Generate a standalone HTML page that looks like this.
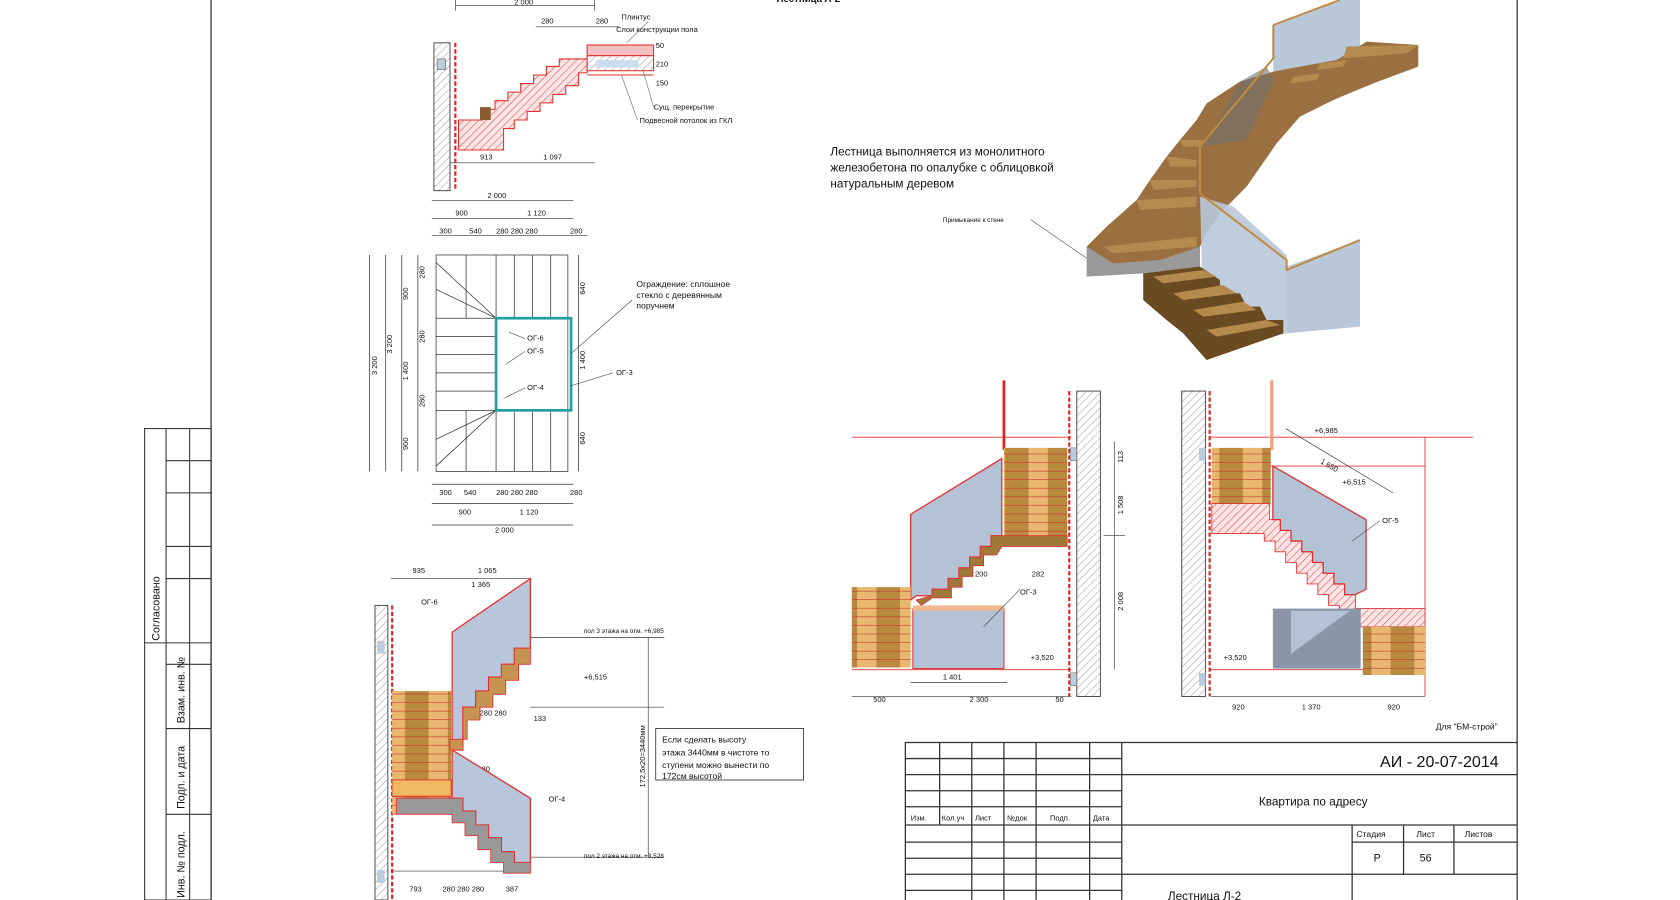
<!DOCTYPE html>
<html><head><meta charset="utf-8"><style>
html,body{margin:0;padding:0;background:#fff;width:1680px;height:900px;overflow:hidden;}
svg{display:block;}
text{font-family:"Liberation Sans",sans-serif;fill:#111;}
</style></head><body>
<svg width="1680" height="900" viewBox="0 0 1568 840" xmlns="http://www.w3.org/2000/svg" font-size="7">
<defs>
<pattern id="hr" width="5" height="5" patternUnits="userSpaceOnUse" patternTransform="rotate(45)"><rect width="5" height="5" fill="#fde4e4"/><line x1="0" y1="0" x2="0" y2="5" stroke="#e04848" stroke-width="1"/></pattern>
<pattern id="hg" width="5" height="5" patternUnits="userSpaceOnUse" patternTransform="rotate(45)"><rect width="5" height="5" fill="#fff"/><line x1="0" y1="0" x2="0" y2="5" stroke="#888" stroke-width="0.8"/></pattern>
<pattern id="wood" width="40" height="8" patternUnits="userSpaceOnUse"><rect width="40" height="8" fill="#e8b870"/><rect x="18" width="22" height="8" fill="#b88a40"/><line x1="0" y1="8" x2="40" y2="8" stroke="#d03030" stroke-width="1.2"/></pattern>
<clipPath id="cp"><rect width="1568" height="840"/></clipPath>
</defs>
<g clip-path="url(#cp)">
<rect width="1568" height="840" fill="#fff"/>
<line x1="197" y1="0" x2="197" y2="840" stroke="#333" stroke-width="1.2"/>
<line x1="1416" y1="0" x2="1416" y2="693" stroke="#333" stroke-width="1.2"/>
<g stroke="#333" fill="none" stroke-width="1">
<rect x="135" y="400" width="62" height="440"/>
<line x1="155" y1="400" x2="155" y2="840"/><line x1="177" y1="400" x2="177" y2="620"/>
<line x1="155" y1="430" x2="197" y2="430"/><line x1="155" y1="460" x2="197" y2="460"/><line x1="155" y1="510" x2="197" y2="510"/><line x1="155" y1="540" x2="197" y2="540"/><line x1="155" y1="600" x2="197" y2="600"/>
<line x1="135" y1="600" x2="155" y2="600"/><line x1="155" y1="620" x2="197" y2="620"/><line x1="155" y1="680" x2="197" y2="680"/><line x1="155" y1="760" x2="197" y2="760"/>
<line x1="177" y1="620" x2="177" y2="840"/>
</g>
<text transform="translate(149,598) rotate(-90)" font-size="10">Согласовано</text>
<text transform="translate(172,675) rotate(-90)" font-size="10">Взам. инв. №</text>
<text transform="translate(172,755) rotate(-90)" font-size="10">Подп. и дата</text>
<text transform="translate(172,838) rotate(-90)" font-size="10">Инв. № подл.</text>

<text x="725" y="2" font-size="9" font-weight="bold">Лестница Л-2</text>

<g stroke="#333" stroke-width="0.6" fill="none">
<line x1="425" y1="5" x2="555" y2="5"/><line x1="425" y1="0" x2="425" y2="10"/><line x1="555" y1="0" x2="555" y2="10"/>
<line x1="500" y1="25" x2="578" y2="25"/><line x1="420" y1="152" x2="555" y2="152"/>
<line x1="403" y1="187" x2="535" y2="187"/><line x1="403" y1="204" x2="535" y2="204"/><line x1="403" y1="220" x2="548" y2="220"/>
</g>
<text x="480" y="4">2 000</text><text x="505" y="22">280</text><text x="556" y="22">280</text>
<text x="448" y="149">913</text><text x="507" y="149">1 097</text>
<text x="455" y="185">2 000</text><text x="425" y="201">900</text><text x="492" y="201">1 120</text>
<text x="410" y="218">300</text><text x="438" y="218">540</text><text x="463" y="218">280 280 280</text><text x="532" y="218">280</text>
<rect x="405" y="40" width="15" height="138" fill="url(#hg)" stroke="#333" stroke-width="0.8"/>
<line x1="425" y1="40" x2="425" y2="178" stroke="#e02020" stroke-width="2" stroke-dasharray="4,2"/>
<rect x="408" y="55" width="8" height="10" fill="#bcd" stroke="#555" stroke-width="0.5"/>
<polygon points="428,140 428,112 450,112 450,102 462,102 462,94 474,94 474,86 486,86 486,78 498,78 498,70 510,70 510,62 522,62 522,55 540,55 548,55 548,68 540,68 540,80 528,80 528,88 516,88 516,96 504,96 504,104 492,104 492,112 480,112 480,120 470,120 470,140" fill="url(#hr)" stroke="#e03030" stroke-width="1"/>
<rect x="448" y="100" width="10" height="12" fill="#8a5a30"/>
<rect x="548" y="42" width="62" height="10" fill="#f4c0c0" stroke="#e03030"/>
<rect x="548" y="52" width="62" height="14" fill="url(#hg)" stroke="#e03030"/>
<rect x="556" y="56" width="40" height="7" fill="#cde"/>
<line x1="548" y1="70" x2="610" y2="70" stroke="#e03030"/>
<g stroke="#555" stroke-width="0.5"><line x1="585" y1="40" x2="605" y2="20"/><line x1="600" y1="65" x2="610" y2="100"/><line x1="580" y1="70" x2="595" y2="112"/></g>
<text x="580" y="18">Плинтус</text><text x="575" y="30">Слои конструкции пола</text><text x="610" y="102">Сущ. перекрытие</text><text x="597" y="115">Подвесной потолок из ГКЛ</text>
<text x="612" y="45">50</text><text x="612" y="62">210</text><text x="612" y="80">150</text>

<g stroke="#333" stroke-width="0.7" fill="none">
<rect x="407" y="238" width="123" height="202"/>
<line x1="407" y1="297" x2="530" y2="297"/><line x1="407" y1="383" x2="530" y2="383"/>
<line x1="435" y1="238" x2="435" y2="297"/><line x1="463" y1="238" x2="463" y2="297"/><line x1="480" y1="238" x2="480" y2="297"/><line x1="497" y1="238" x2="497" y2="297"/><line x1="514" y1="238" x2="514" y2="297"/>
<line x1="435" y1="383" x2="435" y2="440"/><line x1="463" y1="383" x2="463" y2="440"/><line x1="480" y1="383" x2="480" y2="440"/><line x1="497" y1="383" x2="497" y2="440"/><line x1="514" y1="383" x2="514" y2="440"/>
<line x1="407" y1="314" x2="463" y2="314"/><line x1="407" y1="331" x2="463" y2="331"/><line x1="407" y1="348" x2="463" y2="348"/><line x1="407" y1="365" x2="463" y2="365"/>
<line x1="407" y1="245" x2="463" y2="297"/><line x1="407" y1="270" x2="463" y2="297"/><line x1="407" y1="410" x2="463" y2="383"/><line x1="407" y1="435" x2="463" y2="383"/>
<line x1="345" y1="238" x2="345" y2="440"/><line x1="360" y1="238" x2="360" y2="440"/><line x1="375" y1="238" x2="375" y2="440"/><line x1="390" y1="238" x2="390" y2="440"/>
<line x1="540" y1="238" x2="540" y2="440"/>
<line x1="403" y1="452" x2="535" y2="452"/><line x1="403" y1="470" x2="535" y2="470"/><line x1="403" y1="490" x2="535" y2="490"/>
</g>
<rect x="463" y="297" width="70" height="86" fill="none" stroke="#20a0a0" stroke-width="2.5"/>
<g stroke="#333" stroke-width="0.5"><line x1="475" y1="310" x2="490" y2="316"/><line x1="472" y1="340" x2="490" y2="328"/><line x1="470" y1="372" x2="490" y2="362"/><line x1="533" y1="360" x2="572" y2="348"/><line x1="533" y1="330" x2="590" y2="280"/></g>
<text x="492" y="318">ОГ-6</text><text x="492" y="330">ОГ-5</text><text x="492" y="364">ОГ-4</text><text x="575" y="350">ОГ-3</text>
<text x="594" y="268" font-size="8">Ограждение: сплошное</text><text x="594" y="278" font-size="8">стекло с деревянным</text><text x="594" y="288" font-size="8">поручнем</text>
<text x="410" y="462">300</text><text x="433" y="462">540</text><text x="463" y="462">280 280 280</text><text x="532" y="462">280</text>
<text x="428" y="480">900</text><text x="485" y="480">1 120</text><text x="462" y="497">2 000</text>
<text transform="translate(352,350) rotate(-90)">3 200</text><text transform="translate(366,330) rotate(-90)" fill="#e03030">3 200</text>
<text transform="translate(381,280) rotate(-90)">900</text><text transform="translate(381,355) rotate(-90)">1 400</text><text transform="translate(381,420) rotate(-90)">900</text>
<text transform="translate(396,260) rotate(-90)">280</text><text transform="translate(396,320) rotate(-90)">280</text><text transform="translate(396,380) rotate(-90)">280</text>
<text transform="translate(546,275) rotate(-90)">640</text><text transform="translate(546,345) rotate(-90)">1 400</text><text transform="translate(546,415) rotate(-90)">640</text>

<g stroke="#333" stroke-width="0.6" fill="none">
<line x1="365" y1="540" x2="495" y2="540"/><line x1="495" y1="595" x2="620" y2="595"/><line x1="495" y1="660" x2="620" y2="660"/><line x1="495" y1="800" x2="620" y2="800"/>
<line x1="605" y1="595" x2="605" y2="800"/>
<line x1="365" y1="813" x2="495" y2="813"/>
</g>
<text x="385" y="535">935</text><text x="446" y="535">1 065</text><text x="440" y="548">1 365</text>
<text x="393" y="564">ОГ-6</text>
<text x="545" y="591" font-size="6">пол 3 этажа на отм. +6,985</text><text x="545" y="634">+6,515</text>
<text x="545" y="801" font-size="6">пол 2 этажа на отм. +3,528</text>
<text x="512" y="748">ОГ-4</text><text x="434" y="668">280 280 280</text><text x="498" y="673">133</text><text x="432" y="720">280 280</text><text x="380" y="725">900</text><text x="408" y="725">280</text><text x="382" y="832">793</text><text x="413" y="832">280 280 280</text><text x="472" y="832">387</text>
<text transform="translate(602,735) rotate(-90)">172,5х20=3440мм</text>
<rect x="612" y="680" width="138" height="48" fill="none" stroke="#333" stroke-width="0.8"/>
<text x="618" y="693" font-size="8">Если сделать высоту</text><text x="618" y="705" font-size="8">этажа 3440мм в чистоте то</text><text x="618" y="717" font-size="8">ступени можно вынести по</text><text x="618" y="727" font-size="8">172см высотой</text>
<rect x="350" y="565" width="12" height="275" fill="url(#hg)" stroke="#333" stroke-width="0.8"/>
<line x1="366" y1="565" x2="366" y2="840" stroke="#e02020" stroke-width="2" stroke-dasharray="4,2"/>
<rect x="352" y="598" width="7" height="12" fill="#bcd"/><rect x="352" y="812" width="7" height="12" fill="#bcd"/>
<rect x="366" y="645" width="55" height="115" fill="url(#wood)"/>
<polygon points="422,590 495,540 495,605 480,605 480,620 468,620 468,632 456,632 456,645 444,645 444,660 432,660 432,700 422,700" fill="#b8c6dc" stroke="#e03030" stroke-width="1.2"/>
<polygon points="422,700 495,745 495,805 480,805 480,795 468,795 468,782 456,782 456,770 444,770 444,757 432,757 432,745 422,745" fill="#b8c6dc" stroke="#e03030" stroke-width="1.2"/>
<polygon points="420,700 432,700 432,660 444,660 444,645 456,645 456,632 468,632 468,620 480,620 480,605 495,605 495,620 484,620 484,635 472,635 472,648 460,648 460,660 448,660 448,672 436,672 436,690 420,690" fill="#c49450" stroke="#e03030" stroke-width="0.8"/>
<polygon points="370,745 432,745 432,757 444,757 444,770 456,770 456,782 468,782 468,795 480,795 480,805 495,805 495,815 470,815 470,805 458,805 458,793 446,793 446,780 434,780 434,768 422,768 422,760 370,760" fill="#999" stroke="#e03030" stroke-width="0.8"/>
<rect x="366" y="728" width="55" height="15" fill="#f0b860" stroke="#e03030" stroke-width="0.6"/>

<text x="775" y="145" font-size="11">Лестница выполняется из монолитного</text>
<text x="775" y="160" font-size="11">железобетона по опалубке с облицовкой</text>
<text x="775" y="175" font-size="11">натуральным деревом</text>
<text x="880" y="207" font-size="6">Примыкание к стене</text>
<line x1="962" y1="205" x2="1020" y2="245" stroke="#555" stroke-width="0.6"/>
<g transform="translate(989.3,0) scale(0.3111)">
<polygon points="640,75 840,0 900,0 900,180 640,240" fill="#b8c8d8"/>
<polygon points="80,740 160,740 180,700 420,700 420,1000 480,1040 440,1080 370,1000 320,960 250,900 250,820 80,830" fill="#999"/>
<polygon points="80,740 140,680 230,600 270,540 320,470 360,420 410,360 440,310 540,245 640,215 720,200 830,180 920,125 1075,135 1075,200 940,250 820,300 720,350 650,430 560,560 480,640 440,700 420,740 300,780 160,790" fill="#9a7040"/>
<polygon points="420,590 520,620 680,765 680,1000 480,1040 430,940" fill="#b8c8d8" opacity="0.9"/>
<polygon points="430,440 560,420 640,240 620,200 540,245 430,440 430,580" fill="#707070" opacity="0.6"/>
<polygon points="680,800 900,720 900,980 680,1000" fill="#b8c8d8"/>
<polyline points="640,75 840,0" stroke="#c08a40" stroke-width="6" fill="none"/>
<polyline points="640,75 640,175 420,440 420,580 680,780 680,810 900,720" stroke="#c08a40" stroke-width="6" fill="none"/>
<polygon points="250,820 420,800 480,840 480,880 540,880 560,920 600,920 620,960 670,960 670,1000 440,1080 370,1000 320,960 250,900" fill="#6a4a20"/>
<g fill="#b58a4e"><polygon points="280,830 430,810 470,830 310,850"/><polygon points="340,880 490,855 530,880 370,900"/><polygon points="400,930 550,905 590,930 430,950"/><polygon points="440,990 620,960 660,975 470,1010"/>
<polygon points="130,740 410,710 410,740 160,760"/><polygon points="230,600 410,590 410,620 240,630"/><polygon points="270,540 410,540 410,560 280,570"/><polygon points="320,470 410,480 410,500 330,500"/><polygon points="360,420 430,420 420,440 370,440"/>
<polygon points="860,140 1075,135 1040,160 850,175"/><polygon points="780,190 860,180 850,200 770,210"/><polygon points="700,230 780,220 770,240 690,250"/></g>
</g>

<g stroke="#e03030" stroke-width="0.8" fill="none">
<line x1="795" y1="408" x2="1000" y2="408"/><line x1="795" y1="625" x2="1000" y2="625"/>
</g>
<line x1="937" y1="355" x2="937" y2="420" stroke="#e02020" stroke-width="2.5"/>
<rect x="1005" y="365" width="22" height="285" fill="url(#hg)" stroke="#333" stroke-width="0.8"/>
<line x1="998" y1="365" x2="998" y2="650" stroke="#e02020" stroke-width="2" stroke-dasharray="4,2"/>
<rect x="999" y="418" width="6" height="12" fill="#bcd" stroke="#555" stroke-width="0.4"/><rect x="999" y="628" width="6" height="12" fill="#bcd" stroke="#555" stroke-width="0.4"/>
<rect x="937" y="418" width="59" height="82" fill="url(#wood)"/>
<polygon points="850,480 935,428 935,500 925,500 925,510 915,510 915,520 905,520 905,530 895,530 895,540 885,540 885,550 870,550 870,556 855,556 850,560" fill="#b4c2d6" stroke="#e03030" stroke-width="1.2"/>
<polygon points="855,560 870,556 870,550 885,550 885,540 895,540 895,530 905,530 905,520 915,520 915,510 925,510 925,500 996,500 996,510 935,510 930,518 918,518 918,528 908,528 908,538 898,538 898,548 888,548 888,558 870,558 860,565" fill="#a07838" stroke="#e03030" stroke-width="0.8"/>
<rect x="795" y="548" width="55" height="75" fill="url(#wood)"/>
<rect x="852" y="568" width="85" height="56" fill="#b4c2d6" stroke="#e03030" stroke-width="1"/>
<rect x="852" y="565" width="85" height="5" fill="#f0b890"/>
<line x1="952" y1="550" x2="918" y2="585" stroke="#333" stroke-width="0.5"/><text x="952" y="555">ОГ-3</text>
<text x="910" y="538">200</text><text x="963" y="538">282</text><text x="962" y="616">+3,520</text>
<g stroke="#333" stroke-width="0.6"><line x1="1040" y1="412" x2="1040" y2="625"/><line x1="1030" y1="500" x2="1050" y2="500"/><line x1="795" y1="650" x2="1000" y2="650"/><line x1="850" y1="637" x2="940" y2="637"/></g>
<text transform="translate(1048,432) rotate(-90)">113</text><text transform="translate(1048,480) rotate(-90)">1 508</text><text transform="translate(1048,570) rotate(-90)">2 008</text>
<text x="815" y="655">500</text><text x="880" y="634">1 401</text><text x="905" y="655">2 300</text><text x="985" y="655">50</text>

<g stroke="#e03030" stroke-width="0.8" fill="none">
<line x1="1130" y1="408" x2="1375" y2="408"/><line x1="1130" y1="625" x2="1330" y2="625"/><line x1="1330" y1="408" x2="1330" y2="650"/><line x1="1185" y1="435" x2="1330" y2="435"/>
</g>
<rect x="1103" y="365" width="22" height="285" fill="url(#hg)" stroke="#333" stroke-width="0.8"/>
<line x1="1129" y1="365" x2="1129" y2="650" stroke="#e02020" stroke-width="2" stroke-dasharray="4,2"/>
<rect x="1119" y="418" width="6" height="12" fill="#bcd"/><rect x="1119" y="628" width="6" height="12" fill="#bcd"/>
<line x1="1187" y1="355" x2="1187" y2="420" stroke="#f0a080" stroke-width="3"/>
<rect x="1131" y="418" width="55" height="52" fill="url(#wood)"/>
<polygon points="1131,470 1185,470 1185,485 1195,485 1195,495 1205,495 1205,505 1215,505 1215,515 1225,515 1225,525 1235,525 1235,535 1245,535 1245,545 1255,545 1255,555 1265,555 1265,568 1330,568 1330,585 1270,585 1265,575 1250,575 1250,565 1240,565 1240,555 1230,555 1230,545 1220,545 1220,535 1210,535 1210,525 1200,525 1200,515 1190,515 1190,505 1180,505 1180,498 1131,498" fill="url(#hr)" stroke="#e03030" stroke-width="0.8"/>
<polygon points="1188,435 1275,485 1275,550 1265,555 1255,555 1255,545 1245,545 1245,535 1235,535 1235,525 1225,525 1225,515 1215,515 1215,505 1205,505 1205,495 1195,495 1195,485 1188,485" fill="#b4c2d6" stroke="#e03030" stroke-width="1.2"/>
<rect x="1188" y="568" width="82" height="56" fill="#8a96a8"/>
<polygon points="1205,570 1260,570 1205,610" fill="#b4c2d6"/>
<rect x="1272" y="585" width="58" height="45" fill="url(#wood)"/>
<text x="1290" y="488">ОГ-5</text><line x1="1288" y1="486" x2="1262" y2="505" stroke="#333" stroke-width="0.5"/>
<text x="1227" y="404">+6,985</text><text x="1253" y="452">+6,515</text><text x="1232" y="432" transform="rotate(30,1232,432)">1 650</text>
<line x1="1200" y1="400" x2="1300" y2="460" stroke="#333" stroke-width="0.6"/>
<text x="1142" y="616">+3,520</text>
<g stroke="#333" stroke-width="0.6"><line x1="1130" y1="650" x2="1330" y2="650"/></g>
<text x="1150" y="662">920</text><text x="1215" y="662">1 370</text><text x="1295" y="662">920</text>
<text x="1340" y="681" font-size="8">Для "БМ-строй"</text>

<g stroke="#333" stroke-width="1.2" fill="none">
<rect x="845" y="693" width="571" height="160"/>
<line x1="1047" y1="723" x2="1416" y2="723"/><line x1="845" y1="708" x2="1047" y2="708"/><line x1="845" y1="723" x2="1047" y2="723"/><line x1="845" y1="738" x2="1047" y2="738"/><line x1="845" y1="753" x2="1047" y2="753"/>
<line x1="845" y1="770" x2="1416" y2="770"/><line x1="845" y1="786" x2="1047" y2="786"/><line x1="845" y1="801" x2="1047" y2="801"/><line x1="845" y1="816" x2="1416" y2="816"/><line x1="845" y1="831" x2="1047" y2="831"/>
<line x1="877" y1="693" x2="877" y2="770"/><line x1="907" y1="693" x2="907" y2="840"/><line x1="937" y1="693" x2="937" y2="840"/><line x1="967" y1="693" x2="967" y2="840"/><line x1="1017" y1="693" x2="1017" y2="840"/><line x1="1047" y1="693" x2="1047" y2="840"/>
<line x1="1262" y1="770" x2="1262" y2="840"/><line x1="1310" y1="770" x2="1310" y2="816"/><line x1="1357" y1="770" x2="1357" y2="816"/><line x1="1262" y1="786" x2="1416" y2="786"/>
</g>
<text x="1288" y="716" font-size="15">АИ - 20-07-2014</text>
<text x="1175" y="752" font-size="11">Квартира по адресу</text>
<text x="850" y="766" font-size="7">Изм.</text><text x="879" y="766" font-size="7">Кол.уч</text><text x="910" y="766" font-size="7">Лист</text><text x="940" y="766" font-size="7">№док</text><text x="980" y="766" font-size="7">Подп.</text><text x="1020" y="766" font-size="7">Дата</text>
<text x="1266" y="781" font-size="8">Стадия</text><text x="1322" y="781" font-size="8">Лист</text><text x="1367" y="781" font-size="8">Листов</text>
<text x="1282" y="804" font-size="10">Р</text><text x="1325" y="804" font-size="10">56</text>
<text x="1090" y="840" font-size="11">Лестница Л-2</text>
</g>
</svg>
</body></html>
